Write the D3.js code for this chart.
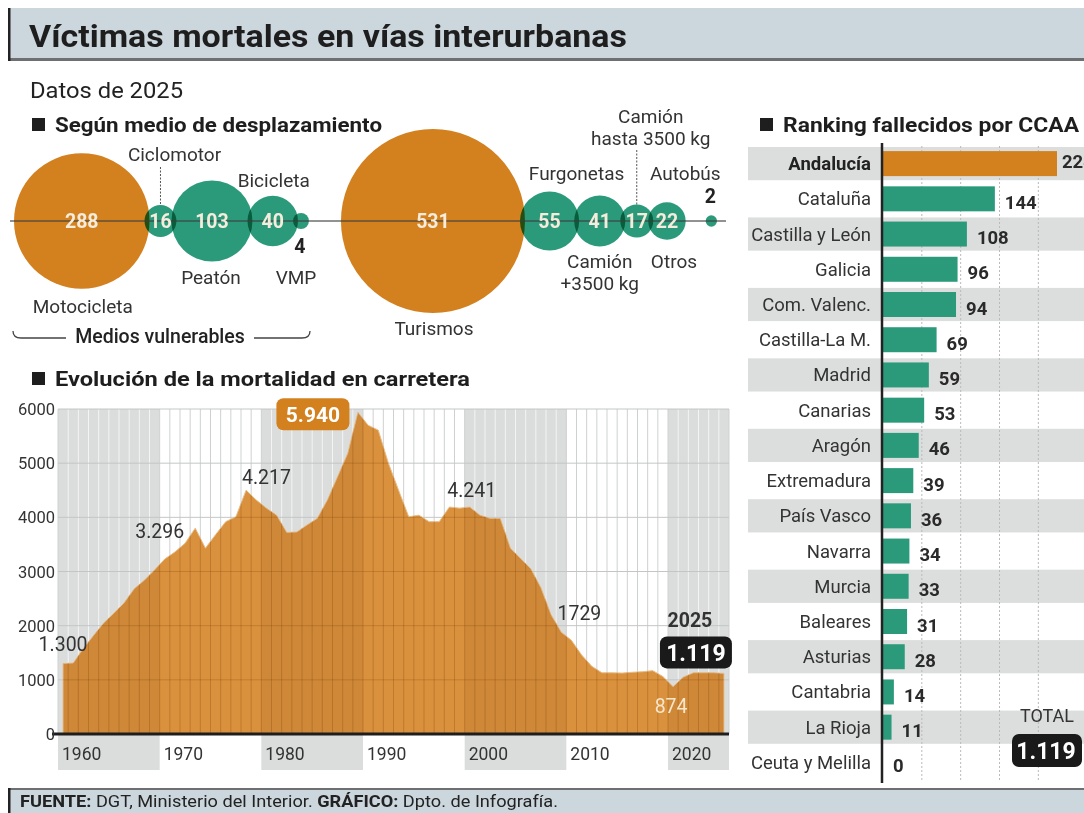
<!DOCTYPE html>
<html>
<head>
<meta charset="utf-8">
<script src="https://cdn.jsdelivr.net/npm/d3@7"></script>
<style>
body { margin: 0; background: #fff; }
text { font-family: Roboto, "Open Sans", sans-serif; }
</style>
</head>
<body>
<script>
var width = 1084;
var height = 813;

// medios de desplazamiento
var modes = ["Motocicleta", "Ciclomotor", "Peatón", "Bicicleta", "VMP",
             "Turismos", "Furgonetas", "Camión +3500 kg", "Camión hasta 3500 kg", "Otros", "Autobús"];
var modeValues = [288, 16, 103, 40, 4, 531, 55, 41, 17, 22, 2];
var modeGroup = [1, 1, 1, 1, 1, 2, 2, 2, 2, 2, 2];

// evolución anual
var years = d3.range(1960, 2026);
var deaths = [1300, 1310, 1580, 1820, 2050, 2230, 2420, 2680, 2840, 3030,
              3230, 3360, 3520, 3800, 3430, 3680, 3920, 4010, 4500, 4320,
              4170, 4040, 3720, 3730, 3860, 3980, 4320, 4750, 5180, 5940,
              5700, 5610, 5000, 4500, 4010, 4040, 3920, 3920, 4190, 4170,
              4190, 4040, 3980, 3980, 3430, 3240, 3050, 2700, 2200, 1880,
              1729, 1460, 1250, 1130, 1130, 1125, 1140, 1150, 1170, 1060,
              874, 1050, 1130, 1130, 1130, 1119];
var yTicks = [0, 1000, 2000, 3000, 4000, 5000, 6000];
var decades = [1960, 1970, 1980, 1990, 2000, 2010, 2020];

// ranking por comunidades
var regions = ["Andalucía", "Cataluña", "Castilla y León", "Galicia", "Com. Valenc.",
               "Castilla-La M.", "Madrid", "Canarias", "Aragón", "Extremadura", "País Vasco",
               "Navarra", "Murcia", "Baleares", "Asturias", "Cantabria", "La Rioja", "Ceuta y Melilla"];
var regionValues = [224, 144, 108, 96, 94, 69, 59, 53, 46, 39, 36, 34, 33, 31, 28, 14, 11, 0];
var regionGrid = [50, 100, 150, 200];

var orange = "#d3801f";
var teal = "#2b9a7b";
var ink = "#333";

var svg = d3.select("body")
            .append("svg")
            .attr("width", width)
            .attr("height", height);

// cabecera
svg.append("rect").attr("x", 8).attr("y", 8).attr("width", width - 8).attr("height", 52).attr("fill", "#cbd6dd");
svg.append("rect").attr("x", 8).attr("y", 58).attr("width", width - 8).attr("height", 3).attr("fill", "#6d6f70");
svg.append("rect").attr("x", 8).attr("y", 8).attr("width", 2.5).attr("height", 53).attr("fill", "#222");
svg.append("text").attr("x", 29).attr("y", 47)
   .attr("font-size", 31).attr("font-weight", 700).attr("fill", "#1e1e1e")
   .attr("textLength", 598).attr("lengthAdjust", "spacingAndGlyphs")
   .text("Víctimas mortales en vías interurbanas");

svg.append("text").attr("x", 30).attr("y", 98).attr("font-size", 22).attr("fill", "#222")
   .attr("textLength", 153).attr("lengthAdjust", "spacingAndGlyphs")
   .text("Datos de 2025");

function header(x, yy, label, w) {
    svg.append("rect").attr("x", x).attr("y", yy - 14).attr("width", 13).attr("height", 13).attr("fill", "#1e1e1e");
    svg.append("text").attr("x", x + 23).attr("y", yy).attr("font-size", 20).attr("font-weight", 700)
       .attr("fill", "#1e1e1e").attr("textLength", w).attr("lengthAdjust", "spacingAndGlyphs").text(label);
}
header(32, 132, "Según medio de desplazamiento", 327);
header(760, 132, "Ranking fallecidos por CCAA", 296);
header(32, 386, "Evolución de la mortalidad en carretera", 415);

// ---- burbujas ----
var r = d3.scaleSqrt().domain([0, d3.max(modeValues)]).range([0, 92]);
var bubbleY = 221;
var cx = [];
var pos = 14;
modes.forEach(function(m, i) {
    var rad = r(modeValues[i]);
    if (i > 0 && modeGroup[i] !== modeGroup[i - 1]) pos += 32;
    else if (i > 0) pos -= 5;
    if (m === "Autobús") pos += 25;
    cx.push(pos + rad);
    pos += 2 * rad;
});
var groupMax = {};
modes.forEach(function(m, i) {
    groupMax[modeGroup[i]] = Math.max(groupMax[modeGroup[i]] || 0, modeValues[i]);
});

var bub = svg.append("g");
bub.selectAll("circle")
   .data(modes)
   .enter()
   .append("circle")
   .attr("cx", function(d, i) { return cx[i]; })
   .attr("cy", bubbleY)
   .attr("r", function(d, i) { return r(modeValues[i]); })
   .attr("fill", function(d, i) { return modeValues[i] === groupMax[modeGroup[i]] ? orange : teal; })
   .style("mix-blend-mode", "multiply");

bub.append("line").attr("x1", 10).attr("x2", 726).attr("y1", bubbleY).attr("y2", bubbleY)
   .attr("stroke", "#3d3d3d").attr("stroke-width", 1.5).attr("opacity", 0.75);

bub.selectAll("text.val")
   .data(modes.filter(function(d, i) { return modeValues[i] >= 10; }))
   .enter()
   .append("text")
   .attr("class", "val")
   .attr("x", function(d) { return cx[modes.indexOf(d)]; })
   .attr("y", bubbleY + 7)
   .attr("text-anchor", "middle")
   .attr("font-size", 19.5)
   .attr("font-weight", 700)
   .attr("fill", "#f5ecdc")
   .text(function(d) { return modeValues[modes.indexOf(d)]; });

// etiquetas de medios (posición relativa a cada burbuja)
var labelPos = {
    "Motocicleta": { dx: 1, y: [313] , lines: ["Motocicleta"] },
    "Ciclomotor": { dx: 14, y: [161], lines: ["Ciclomotor"], leader: 167 },
    "Peatón": { dx: -1, y: [284], lines: ["Peatón"] },
    "Bicicleta": { dx: 1, y: [187], lines: ["Bicicleta"] },
    "VMP": { dx: -5, y: [284], lines: ["VMP"], outside: 253 },
    "Turismos": { dx: 1, y: [335], lines: ["Turismos"] },
    "Furgonetas": { dx: 27, y: [180], lines: ["Furgonetas"] },
    "Camión +3500 kg": { dx: 0, y: [268, 290], lines: ["Camión", "+3500 kg"] },
    "Camión hasta 3500 kg": { dx: 14, y: [123, 145], lines: ["Camión", "hasta 3500 kg"], leader: 150 },
    "Otros": { dx: 7, y: [268], lines: ["Otros"] },
    "Autobús": { dx: -26, y: [180], lines: ["Autobús"], outside: 203 }
};
modes.forEach(function(m, i) {
    var lp = labelPos[m];
    lp.lines.forEach(function(line, k) {
        bub.append("text").attr("x", cx[i] + lp.dx).attr("y", lp.y[k])
           .attr("text-anchor", "middle").attr("font-size", 19).attr("fill", ink).text(line);
    });
    if (lp.leader) {
        bub.append("line").attr("x1", cx[i]).attr("x2", cx[i])
           .attr("y1", lp.leader).attr("y2", bubbleY - r(modeValues[i]))
           .attr("stroke", "#555").attr("stroke-width", 1).attr("stroke-dasharray", "2,1.5");
    }
    if (lp.outside) {
        bub.append("text").attr("x", cx[i] - 1).attr("y", lp.outside)
           .attr("text-anchor", "middle").attr("font-size", 19.5).attr("font-weight", 700)
           .attr("fill", "#222").text(modeValues[i]);
    }
});

// llave "Medios vulnerables"
bub.append("path").attr("d", "M13,331 Q13,338 21,338 L66,338 M254,338 L302,338 Q310,338 310,331")
   .attr("fill", "none").attr("stroke", "#444").attr("stroke-width", 1.3);
bub.append("text").attr("x", 160).attr("y", 343).attr("text-anchor", "middle")
   .attr("font-size", 19.5).attr("font-weight", 500).attr("fill", "#222").text("Medios vulnerables");

// ---- evolución ----
var x = d3.scaleLinear().domain([1959.5, 2025.5]).range([58, 729]);
var y = d3.scaleLinear().domain([0, 6000]).range([734, 409]);
var series = years.map(function(yr, i) { return { year: yr, value: deaths[i] }; });
var shaded = decades.filter(function(d, i) { return i % 2 === 0; });

var evo = svg.append("g");
evo.selectAll("rect.band")
   .data(shaded)
   .enter()
   .append("rect")
   .attr("class", "band")
   .attr("x", function(d) { return x(d - 0.5); })
   .attr("width", function(d) { return x(Math.min(d + 9.5, 2025.5)) - x(d - 0.5); })
   .attr("y", y(6000))
   .attr("height", 770 - y(6000))
   .attr("fill", "#dadddc");

var edges = d3.range(1959.5, 2026, 1);
evo.selectAll("line.vgrid")
   .data(edges)
   .enter()
   .append("line")
   .attr("class", "vgrid")
   .attr("x1", function(d) { return x(d); })
   .attr("x2", function(d) { return x(d); })
   .attr("y1", y(6000))
   .attr("y2", y(0))
   .attr("stroke", function(d) {
       var dec = Math.floor((d + 0.5) / 10) * 10;
       return shaded.indexOf(dec) >= 0 && d > 1959.5 && d < 2025.5 && (d + 0.5) % 10 !== 0 ? "#f4f4f4" : "#cfd1d1";
   })
   .attr("stroke-width", 1);

evo.selectAll("line.hgrid")
   .data(yTicks.slice(1))
   .enter()
   .append("line")
   .attr("class", "hgrid")
   .attr("x1", x(1959.5)).attr("x2", x(2025.5))
   .attr("y1", function(d) { return y(d); })
   .attr("y2", function(d) { return y(d); })
   .attr("stroke", "#c4c6c6").attr("stroke-width", 1);

var area = d3.area()
             .x(function(d) { return x(d.year); })
             .y0(y(0))
             .y1(function(d) { return y(d.value); });

svg.append("clipPath").attr("id", "areaClip").append("path").datum(series).attr("d", area);

evo.append("path").datum(series).attr("d", area).attr("fill", "#da913d")
   .attr("stroke", "#e9bd86").attr("stroke-width", 1);

var inner = evo.append("g").attr("clip-path", "url(#areaClip)");
inner.selectAll("rect")
     .data(shaded)
     .enter()
     .append("rect")
     .attr("x", function(d) { return x(d - 0.5); })
     .attr("width", function(d) { return x(Math.min(d + 9.5, 2025.5)) - x(d - 0.5); })
     .attr("y", y(6000))
     .attr("height", y(0) - y(6000))
     .attr("fill", "#5a2c00").attr("opacity", 0.08);
inner.selectAll("line.v")
     .data(edges)
     .enter()
     .append("line")
     .attr("class", "v")
     .attr("x1", function(d) { return x(d); })
     .attr("x2", function(d) { return x(d); })
     .attr("y1", y(6000)).attr("y2", y(0))
     .attr("stroke", "#7a3e00").attr("stroke-opacity", 0.28).attr("stroke-width", 1);
inner.selectAll("line.h")
     .data(yTicks.slice(1))
     .enter()
     .append("line")
     .attr("class", "h")
     .attr("x1", x(1959.5)).attr("x2", x(2025.5))
     .attr("y1", function(d) { return y(d); })
     .attr("y2", function(d) { return y(d); })
     .attr("stroke", "#7a3e00").attr("stroke-opacity", 0.25).attr("stroke-width", 1);

evo.append("line").attr("x1", 52).attr("x2", x(2025.5)).attr("y1", y(0)).attr("y2", y(0))
   .attr("stroke", "#1e1e1e").attr("stroke-width", 3);

evo.selectAll("text.ytick")
   .data(yTicks)
   .enter()
   .append("text")
   .attr("class", "ytick")
   .attr("x", 55)
   .attr("y", function(d) { return y(d) + 6; })
   .attr("text-anchor", "end")
   .attr("font-size", 16.5)
   .attr("fill", ink)
   .text(function(d) { return d; });

evo.selectAll("text.xtick")
   .data(decades)
   .enter()
   .append("text")
   .attr("class", "xtick")
   .attr("x", function(d) { return x(d - 0.5) + 4; })
   .attr("y", 760)
   .attr("font-size", 17.5)
   .attr("fill", ink)
   .text(function(d) { return d; });

// anotaciones
function note(yr, val, dx, dy, txt, opts) {
    opts = opts || {};
    evo.append("text")
       .attr("x", x(yr) + dx).attr("y", y(val) + dy)
       .attr("text-anchor", "middle")
       .attr("font-size", opts.size || 19.5)
       .attr("font-weight", opts.weight || 400)
       .attr("fill", opts.fill || "#333")
       .text(txt);
}
note(1960, deaths[0], 0, -13, "1.300");
note(1970, deaths[10], -5, -21, "3.296");
note(1980, deaths[20], 0, -24, "4.217");
note(2000, deaths[40], 2, -10, "4.241");
note(2010, deaths[50], 8, -20, "1729");
note(2020, deaths[60], -2, 26, "874", { fill: "#f7e6cc" });
note(2025, deaths[65], -34, -46, "2025", { weight: 700 });

function badge(cxp, cyp, w, h, fill, txt, size) {
    evo.append("rect").attr("x", cxp - w / 2).attr("y", cyp - h / 2).attr("width", w).attr("height", h)
       .attr("rx", 7).attr("fill", fill);
    evo.append("text").attr("x", cxp).attr("y", cyp + size * 0.36).attr("text-anchor", "middle")
       .attr("font-size", size).attr("font-weight", 700).attr("fill", "#fff").text(txt);
}
badge(x(1989) - 45, y(5940) + 2, 73, 32, orange, "5.940", 21);
badge(x(2025) - 28, y(deaths[65]) - 21, 72, 32, "#1a1a1a", "1.119", 23);

// ---- ranking ----
var band = d3.scaleBand().domain(regions).range([146, 780]);
var xr = d3.scaleLinear().domain([0, d3.max(regionValues)]).range([883, 1057]);

var rank = svg.append("g");
rank.selectAll("rect.row")
    .data(regions.filter(function(d, i) { return i % 2 === 0; }))
    .enter()
    .append("rect")
    .attr("class", "row")
    .attr("x", 748)
    .attr("y", function(d) { return band(d) + 1; })
    .attr("width", width - 748)
    .attr("height", band.bandwidth() - 2)
    .attr("fill", "#dcdedd");

rank.selectAll("line.grid")
    .data(regionGrid)
    .enter()
    .append("line")
    .attr("class", "grid")
    .attr("x1", function(d) { return xr(d); })
    .attr("x2", function(d) { return xr(d); })
    .attr("y1", 146).attr("y2", 782)
    .attr("stroke", "#b9b9b9").attr("stroke-width", 1).attr("stroke-dasharray", "2,2");

rank.selectAll("rect.bar")
    .data(regions)
    .enter()
    .append("rect")
    .attr("class", "bar")
    .attr("x", xr(0))
    .attr("y", function(d) { return band(d) + band.bandwidth() / 2 - 12.5; })
    .attr("width", function(d, i) { return xr(regionValues[i]) - xr(0); })
    .attr("height", 25)
    .attr("fill", function(d, i) { return i === 0 ? orange : teal; });

rank.append("line").attr("x1", 882).attr("x2", 882).attr("y1", 143).attr("y2", 783)
    .attr("stroke", "#222").attr("stroke-width", 2.5);

rank.selectAll("text.name")
    .data(regions)
    .enter()
    .append("text")
    .attr("class", "name")
    .attr("x", 871)
    .attr("y", function(d) { return band(d) + band.bandwidth() / 2 + 6.5; })
    .attr("text-anchor", "end")
    .attr("font-size", 18.5)
    .attr("font-weight", function(d, i) { return i === 0 ? 700 : 400; })
    .attr("fill", function(d, i) { return i === 0 ? "#222" : ink; })
    .text(function(d) { return d; });

rank.selectAll("text.value")
    .data(regions)
    .enter()
    .append("text")
    .attr("class", "value")
    .attr("x", function(d, i) { return xr(regionValues[i]) + (i === 0 ? 5 : 10); })
    .attr("y", function(d, i) { return band(d) + band.bandwidth() / 2 + (i === 0 ? 4 : 10); })
    .attr("font-size", 18.5)
    .attr("font-weight", 700)
    .attr("fill", "#2a2a2a")
    .text(function(d, i) { return regionValues[i]; });

rank.append("text").attr("x", 1047).attr("y", 722).attr("text-anchor", "middle")
    .attr("font-size", 18).attr("fill", ink).text("TOTAL");
rank.append("rect").attr("x", 1012).attr("y", 734).attr("width", 70).attr("height", 33)
    .attr("rx", 7).attr("fill", "#1a1a1a");
rank.append("text").attr("x", 1046).attr("y", 759).attr("text-anchor", "middle")
    .attr("font-size", 23).attr("font-weight", 700).attr("fill", "#fff")
    .text(d3.format(",")(d3.sum(regionValues)).replace(",", "."));

// pie
svg.append("rect").attr("x", 8).attr("y", 789).attr("width", width - 8).attr("height", 24).attr("fill", "#cbd6dd");
svg.append("rect").attr("x", 8).attr("y", 788).attr("width", width - 8).attr("height", 2).attr("fill", "#6d6f70");
svg.append("rect").attr("x", 8).attr("y", 788).attr("width", 2.5).attr("height", 25).attr("fill", "#222");
var foot = svg.append("text").attr("x", 20).attr("y", 807).attr("font-size", 16.5).attr("fill", "#222")
              .attr("textLength", 538).attr("lengthAdjust", "spacingAndGlyphs");
foot.append("tspan").attr("font-weight", 700).text("FUENTE:");
foot.append("tspan").text(" DGT, Ministerio del Interior. ");
foot.append("tspan").attr("font-weight", 700).text("GRÁFICO:");
foot.append("tspan").text(" Dpto. de Infografía.");
</script>
</body>
</html>
